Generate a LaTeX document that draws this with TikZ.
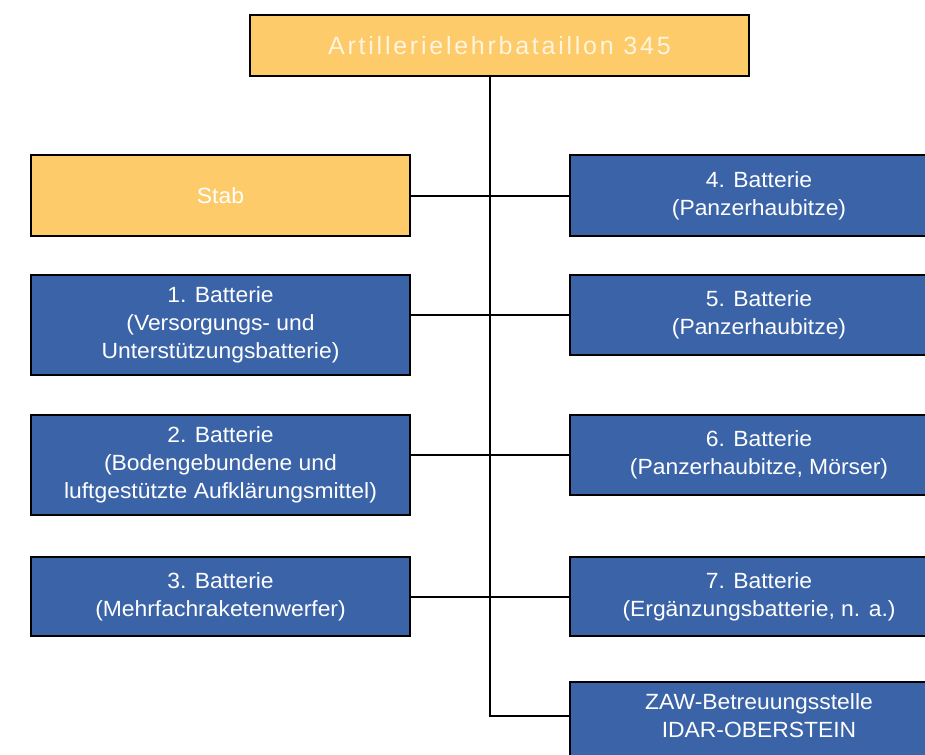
\documentclass[tikz,border=0pt]{standalone}
\usepackage{fontspec}
\setmainfont{Liberation Sans}[FakeStretch=1.04]
\newfontfamily\titlefont{Liberation Sans}[LetterSpace=11]
\definecolor{boxblue}{HTML}{3A63A8}
\definecolor{boxyellow}{HTML}{FDCB69}
\definecolor{titletext}{HTML}{FFF4DE}
\begin{document}
\begin{tikzpicture}[x=1pt,y=-1pt,
  box/.style={draw=black, line width=2pt, text=white, align=center, inner sep=0pt,
    font=\fontsize{22}{28}\selectfont},
  bluebox/.style={box, fill=boxblue, minimum width=378pt},
  ybox/.style={box, fill=boxyellow},
  plaintext/.style={text=white, align=center, inner sep=0pt, font=\fontsize{22}{28}\selectfont},
  conn/.style={draw=black, line width=2pt}]
\useasboundingbox (0,0) rectangle (925,754);
\clip (0,0) rectangle (925,754);
\fill[white] (0,0) rectangle (925,754);

\node[ybox, minimum width=499pt, minimum height=61pt, text=titletext,
  font=\titlefont\fontsize{25}{30}\selectfont] (top) at (499.5,45.5) {Artillerielehrbataillon 345};
\node[ybox, minimum width=379pt, minimum height=81pt] (stab) at (220.5,195.5) {Stab};
\node[bluebox, minimum width=379pt, minimum height=100pt] (b1) at (220.5,325) {1. Batterie\\(Versorgungs- und\\Unterstützungsbatterie)};
\node[bluebox, minimum width=379pt, minimum height=100pt] (b2) at (220.5,465) {2. Batterie\\(Bodengebundene und\\luftgestützte Aufklärungsmittel)};
\node[bluebox, minimum width=379pt, minimum height=79pt] (b3) at (220.5,596.5) {3. Batterie\\(Mehrfachraketenwerfer)};

\node[bluebox, minimum height=81pt] (b4) at (759,195.5) {4. Batterie\\(Panzerhaubitze)};
\node[bluebox, minimum height=80pt] (b5) at (759,315) {5. Batterie\\(Panzerhaubitze)};
\node[bluebox, minimum height=80pt] (b6) at (759,455) {6. Batterie\\(Panzerhaubitze, Mörser)};
\node[bluebox, minimum height=79pt] (b7) at (759,596.5) {7. Batterie\\(Ergänzungsbatterie, n. a.)};
\node[bluebox, minimum height=80pt] (zaw) at (759,722) {};
\node[plaintext] (zawtext) at (759,716) {ZAW-Betreuungsstelle\\IDAR-OBERSTEIN};

\draw[conn] ([xshift=-9.5pt]top.south) |- (zawtext.west -| zaw.west);
\draw[conn] (stab.east) -- (b4.west);
\draw[conn] (b5.west -| b1.east) -- (b5.west);
\draw[conn] (b6.west -| b2.east) -- (b6.west);
\draw[conn] (b7.west -| b3.east) -- (b7.west);
\end{tikzpicture}
\end{document}
